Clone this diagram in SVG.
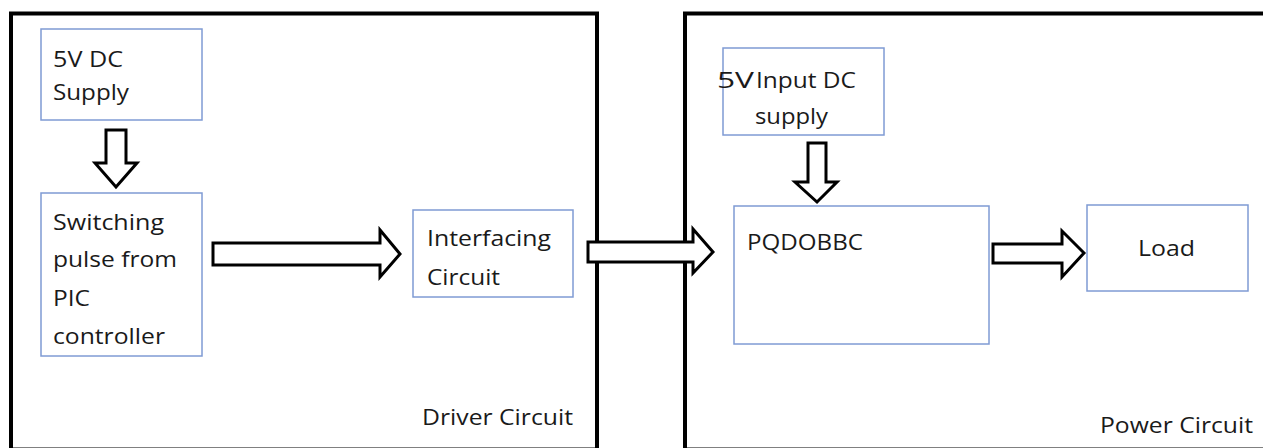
<svg xmlns="http://www.w3.org/2000/svg" width="1263" height="448" viewBox="0 0 1263 448">
<style>
.frame{fill:none;stroke:#000;stroke-width:4}
.box{fill:#fff;stroke:#7f9bd4;stroke-width:1.5}
.arr{fill:#fff;stroke:#000;stroke-width:3;stroke-linejoin:miter}
text{font-family:"Open Sans","Noto Sans","Liberation Sans",sans-serif;font-size:22px;fill:#1a1a1a}
</style>
<rect width="1263" height="448" fill="#fff"/>
<g id="driver-circuit">
<rect class="frame" x="11" y="13.5" width="586" height="436"/>
<text x="422" y="425" textLength="151" lengthAdjust="spacingAndGlyphs">Driver Circuit</text>
</g>
<g id="power-circuit">
<rect class="frame" x="685" y="13.5" width="600" height="436"/>
<text x="1100" y="433" textLength="153" lengthAdjust="spacingAndGlyphs">Power Circuit</text>
</g>
<g id="connectors">
<polygon class="arr" points="106,130 126,130 126,163 137,163 116,187 95,163 106,163"/>
<polygon class="arr" points="213,243 380,243 380,230 400,254 380,277 380,265 213,265"/>
<polygon class="arr" points="588,242 693,242 693,229 713,252 693,273 693,262 588,262"/>
<polygon class="arr" points="808,143 826,143 826,182 837,182 817,202 795,182 808,182"/>
<polygon class="arr" points="993,244 1062,244 1062,231 1084,253 1062,277 1062,263 993,263"/>
</g>
<g id="dc-supply">
<rect class="box" x="41" y="29" width="161" height="91"/>
<text x="53" y="67" textLength="70" lengthAdjust="spacingAndGlyphs">5V DC</text>
<text x="53" y="100" textLength="76" lengthAdjust="spacingAndGlyphs">Supply</text>
</g>
<g id="switching-pulse">
<rect class="box" x="41" y="193" width="161" height="163"/>
<text x="53" y="230" textLength="111" lengthAdjust="spacingAndGlyphs">Switching</text>
<text x="53" y="267" textLength="124" lengthAdjust="spacingAndGlyphs">pulse from</text>
<text x="53" y="306" textLength="37" lengthAdjust="spacingAndGlyphs">PIC</text>
<text x="53" y="344" textLength="112" lengthAdjust="spacingAndGlyphs">controller</text>
</g>
<g id="interfacing">
<rect class="box" x="413" y="210" width="160" height="87"/>
<text x="427" y="246" textLength="124" lengthAdjust="spacingAndGlyphs">Interfacing</text>
<text x="427" y="285" textLength="73" lengthAdjust="spacingAndGlyphs">Circuit</text>
</g>
<g id="input-dc">
<rect class="box" x="723" y="48" width="161" height="87"/>
<text x="717" y="88" font-size="26" textLength="37" lengthAdjust="spacingAndGlyphs">5V</text>
<text x="756" y="88" textLength="100" lengthAdjust="spacingAndGlyphs">Input DC</text>
<text x="755" y="124" textLength="73" lengthAdjust="spacingAndGlyphs">supply</text>
</g>
<g id="pqdobbc">
<rect class="box" x="734" y="206" width="255" height="138"/>
<text x="747" y="250" textLength="116" lengthAdjust="spacingAndGlyphs">PQDOBBC</text>
</g>
<g id="load">
<rect class="box" x="1087" y="205" width="161" height="86"/>
<text x="1138" y="256" textLength="57" lengthAdjust="spacingAndGlyphs">Load</text>
</g>
</svg>
